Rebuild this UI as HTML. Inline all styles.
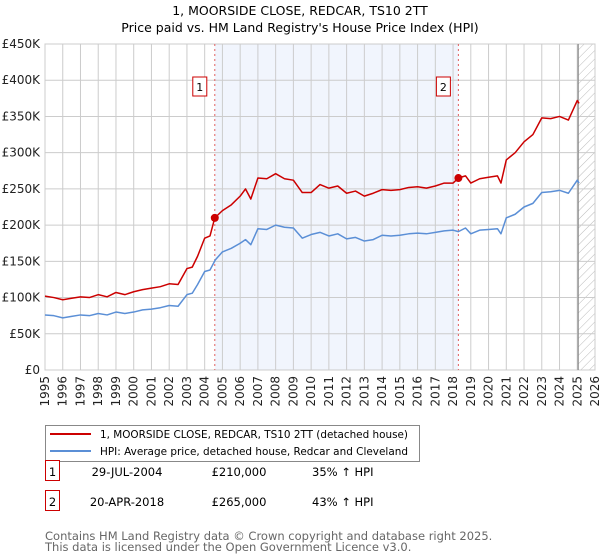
<!DOCTYPE html>
<html><head><meta charset="utf-8"><style>
body{margin:0;background:#fff;font-family:"DejaVu Sans","Liberation Sans",sans-serif;}
#wrap{position:relative;width:600px;height:560px;overflow:hidden}
svg text{font-family:"DejaVu Sans","Liberation Sans",sans-serif}
</style></head><body><div id="wrap">
<svg id="chart" width="600" height="560"></svg>
</div>
<script>
const years=[1995,1996,1997,1998,1999,2000,2001,2002,2003,2004,2005,2006,2007,2008,2009,2010,2011,2012,2013,2014,2015,2016,2017,2018,2019,2020,2021,2022,2023,2024,2025,2026];
const yTicks=[0,50,100,150,200,250,300,350,400,450];
const yTickLabels=["£0","£50K","£100K","£150K","£200K","£250K","£300K","£350K","£400K","£450K"];
const hpiT=[1995,1995.5,1996,1996.5,1997,1997.5,1998,1998.5,1999,1999.5,2000,2000.5,2001,2001.5,2002,2002.5,2003,2003.3,2003.6,2004,2004.3,2004.6,2005,2005.5,2006,2006.3,2006.6,2007,2007.5,2008,2008.5,2009,2009.5,2010,2010.5,2011,2011.5,2012,2012.5,2013,2013.5,2014,2014.5,2015,2015.5,2016,2016.5,2017,2017.5,2018,2018.3,2018.7,2019,2019.5,2020,2020.5,2020.7,2021,2021.5,2022,2022.5,2023,2023.5,2024,2024.5,2025,2025.1];
const hpiV=[76,75,72,74,76,75,78,76,80,78,80,83,84,86,89,88,104,106,118,136,138,152,163,168,175,180,173,195,194,200,197,196,182,187,190,185,188,181,183,178,180,186,185,186,188,189,188,190,192,193,191,196,188,193,194,195,188,210,215,225,230,245,246,248,244,262,258];
const redT=[1995,1995.5,1996,1996.5,1997,1997.5,1998,1998.5,1999,1999.5,2000,2000.5,2001,2001.5,2002,2002.5,2003,2003.3,2003.6,2004,2004.3,2004.57,2005,2005.5,2006,2006.3,2006.6,2007,2007.5,2008,2008.5,2009,2009.5,2010,2010.5,2011,2011.5,2012,2012.5,2013,2013.5,2014,2014.5,2015,2015.5,2016,2016.5,2017,2017.5,2018,2018.3,2018.7,2019,2019.5,2020,2020.5,2020.7,2021,2021.5,2022,2022.5,2023,2023.5,2024,2024.5,2025,2025.1];
const redV=[102,100,97,99,101,100,104,101,107,104,108,111,113,115,119,118,140,142,157,182,185,210,220,228,240,250,236,265,264,271,264,262,245,245,256,251,254,244,247,240,244,249,248,249,252,253,251,254,258,258,265,268,258,264,266,268,258,290,300,315,325,348,347,350,345,372,368];
const saleT=[2004.57,2018.3];
const saleV=[210,265];
const saleLabels=["1","2"];

const svg=document.getElementById('chart');const NS='http://www.w3.org/2000/svg';
const X0=45,X1=595,Y0=370,Y1=44;
const xs=t=>X0+(t-1995)*(X1-X0)/31;
const ys=v=>Y0-v*(Y0-Y1)/450;
function el(tag,attrs,parent){const e=document.createElementNS(NS,tag);for(const k in attrs)e.setAttribute(k,attrs[k]);(parent||svg).appendChild(e);return e;}
const defs=el('defs',{});const pat=el('pattern',{id:'hatch',width:6,height:6,patternUnits:'userSpaceOnUse',patternTransform:'rotate(45)'},defs);
el('line',{x1:0,y1:0,x2:0,y2:6,stroke:'#bbb','stroke-width':1},pat);
let r=el('rect',{x:X0,y:Y1,width:X1-X0,height:Y0-Y1,fill:'#fff',stroke:'#ccc'});

r=el('rect',{x:xs(saleT[0]),y:Y1,width:xs(saleT[1])-xs(saleT[0]),height:Y0-Y1,fill:'#eef2fc',opacity:0.8});

r=el('rect',{x:xs(2025.05),y:Y1,width:X1-xs(2025.05),height:Y0-Y1,fill:'url(#hatch)'});

years.forEach(y=>{const l=el('line',{x1:xs(y),x2:xs(y),y1:Y1,y2:Y0,stroke:'#ccc'});

const t=el('text',{transform:`translate(${xs(y)+4},${Y0+6}) rotate(-90)`,'text-anchor':'end','font-size':12,fill:'#222'});t.textContent=y;
});
yTicks.forEach((v,i)=>{const l=el('line',{x1:X0,x2:X1,y1:ys(v),y2:ys(v),stroke:'#ccc'});

const t=el('text',{x:40,y:ys(v)+4,'text-anchor':'end','font-size':12,fill:'#222'});t.textContent=yTickLabels[i];
});
let l=el('line',{x1:xs(2025.05),x2:xs(2025.05),y1:Y1,y2:Y0,stroke:'#888','stroke-width':1.2});

saleT.forEach((t,i)=>{const d=el('line',{x1:xs(t),x2:xs(t),y1:Y1,y2:Y0,stroke:'#e06060','stroke-dasharray':'2,3'});

const b=el('rect',{x:xs(t)-22,y:77,width:14,height:19,fill:'#fff',stroke:'#c00'});

const tx=el('text',{x:xs(t)-15,y:91,'text-anchor':'middle','font-size':11,fill:'#000'});tx.textContent=saleLabels[i];
});
function line(T,V,c,name){const p=el('polyline',{points:T.map((t,i)=>xs(t)+','+ys(V[i])).join(' '),fill:'none',stroke:c,'stroke-width':1.5,'stroke-linejoin':'round'});
}
line(hpiT,hpiV,'#5b8fd6','hpi-line');
line(redT,redV,'#cc0000','property-price-line');
saleT.forEach((t,i)=>{const c=el('circle',{cx:xs(t),cy:ys(saleV[i]),r:4,fill:'#cc0000'});
});
let t=el('text',{x:300,y:15,'text-anchor':'middle','font-size':12.5,fill:'#000'});t.textContent='1, MOORSIDE CLOSE, REDCAR, TS10 2TT';

t=el('text',{x:300,y:32,'text-anchor':'middle','font-size':12.5,fill:'#000'});t.textContent="Price paid vs. HM Land Registry's House Price Index (HPI)";

const lg=el('g',{});
el('rect',{x:45.5,y:425.5,width:374,height:36,fill:'#fff',stroke:'#888'},lg);
let e=el('line',{x1:50,x2:91,y1:434,y2:434,stroke:'#cc0000','stroke-width':2},lg);
e=el('text',{x:100,y:438,'font-size':11,fill:'#000',textLength:308,lengthAdjust:'spacingAndGlyphs'},lg);e.textContent='1, MOORSIDE CLOSE, REDCAR, TS10 2TT (detached house)';

el('line',{x1:50,x2:91,y1:451,y2:451,stroke:'#5b8fd6','stroke-width':2},lg);
e=el('text',{x:100,y:455,'font-size':11,fill:'#000',textLength:308,lengthAdjust:'spacingAndGlyphs'},lg);e.textContent='HPI: Average price, detached house, Redcar and Cleveland';

const rows=[["1","29-JUL-2004","£210,000","35% ↑ HPI",483],["2","20-APR-2018","£265,000","43% ↑ HPI",513]];
rows.forEach(rw=>{const y=rw[4];
let b=el('rect',{x:45.5,y:y-22.5,width:14,height:20,fill:'#fff',stroke:'#c00'});
let a=el('text',{x:52.5,y:y-7,'text-anchor':'middle','font-size':11.5});a.textContent=rw[0];
a=el('text',{x:127,y:y-7,'text-anchor':'middle','font-size':11.5});a.textContent=rw[1];
a=el('text',{x:239,y:y-7,'text-anchor':'middle','font-size':11.5});a.textContent=rw[2];
a=el('text',{x:312,y:y-7,'font-size':11.5});a.textContent=rw[3];});
t=el('text',{x:45,y:540,'font-size':11.5,fill:'#666'});t.textContent='Contains HM Land Registry data © Crown copyright and database right 2025.';

t=el('text',{x:45,y:551,'font-size':11.5,fill:'#666'});t.textContent='This data is licensed under the Open Government Licence v3.0.';

</script></body></html>
